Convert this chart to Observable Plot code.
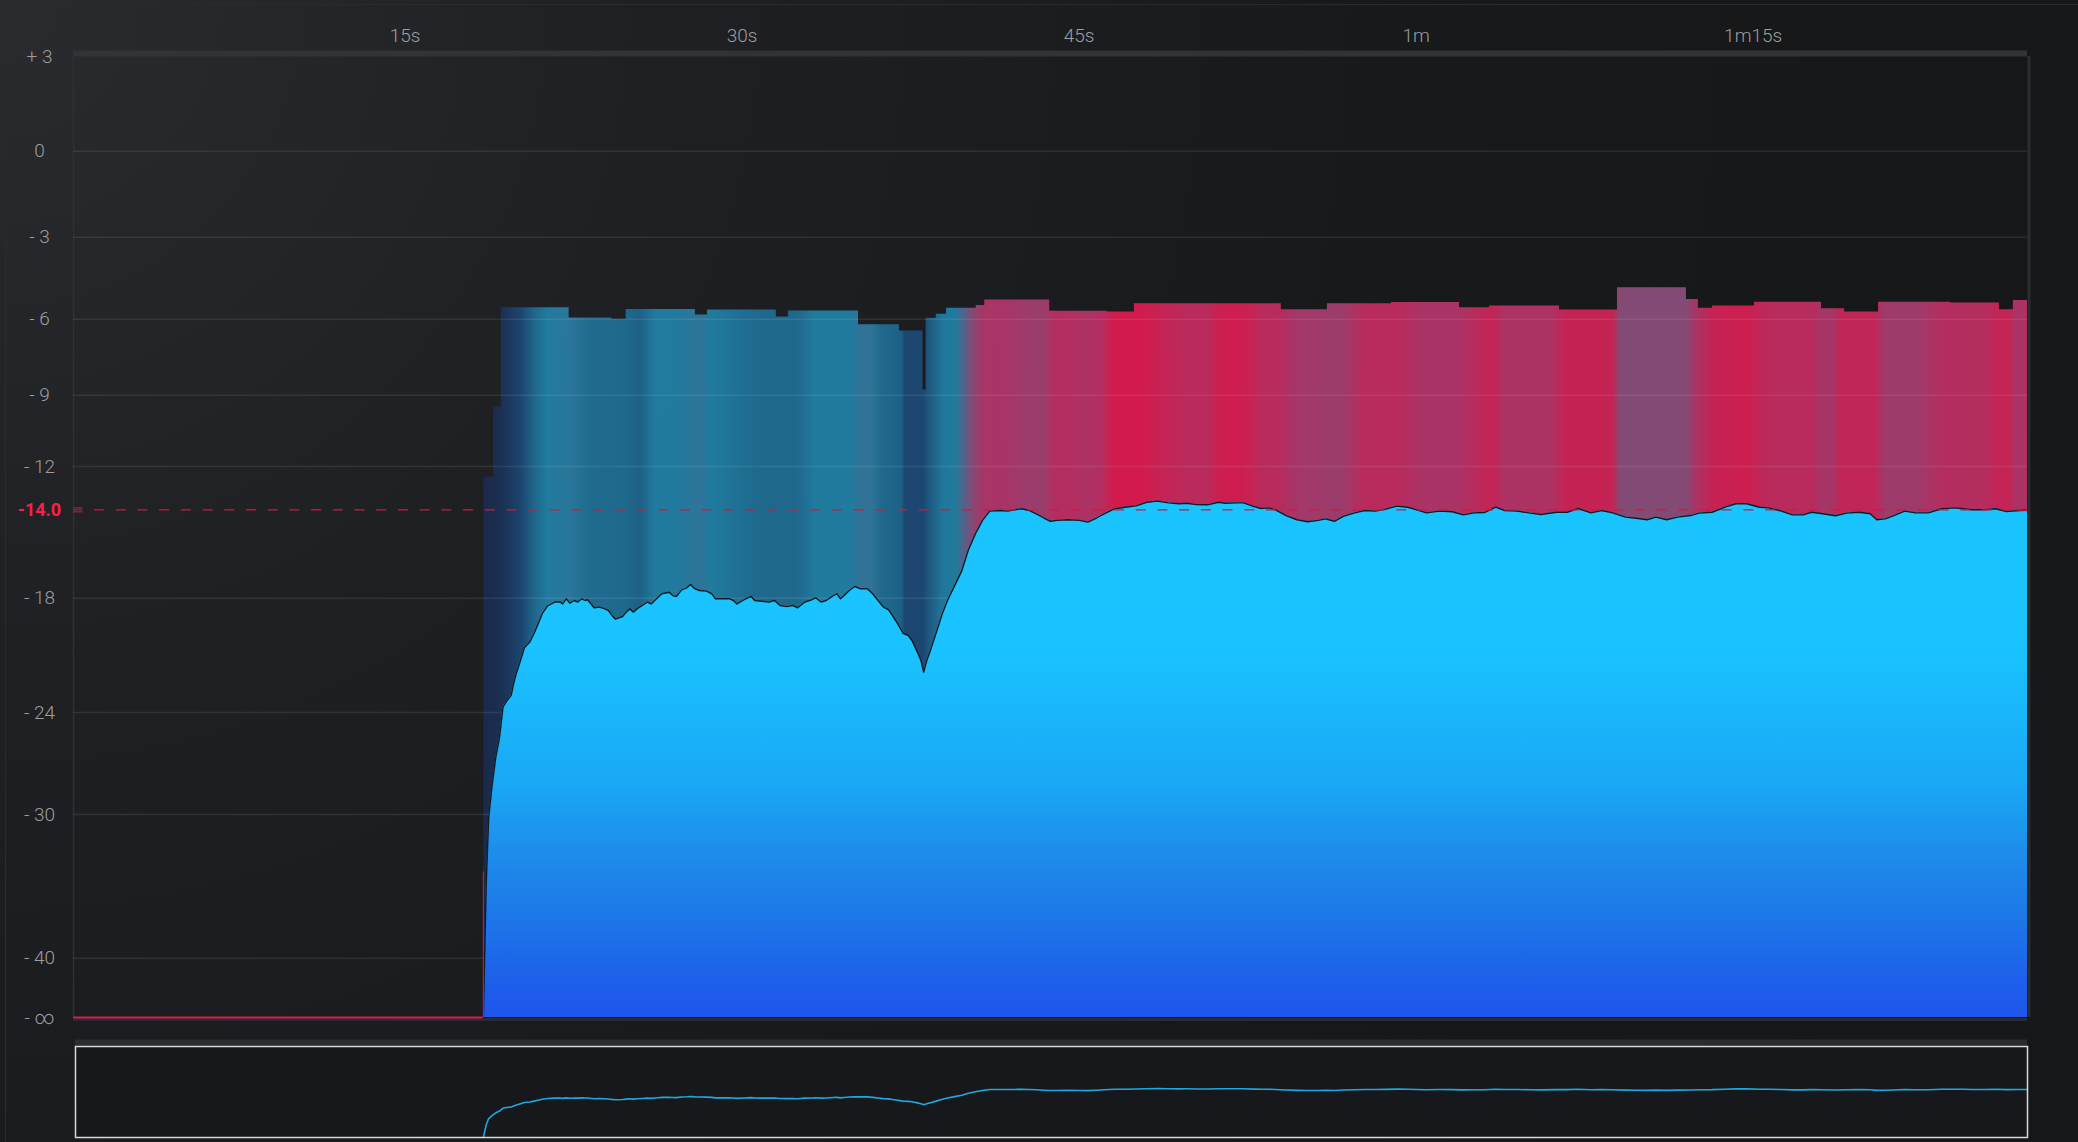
<!DOCTYPE html>
<html>
<head>
<meta charset="utf-8">
<script src="https://cdn.jsdelivr.net/npm/d3@7"></script>
<script src="https://cdn.jsdelivr.net/npm/@observablehq/plot@0.6"></script>
<style>
html, body { margin: 0; padding: 0; width: 2078px; height: 1142px; overflow: hidden; }
body {
  background: radial-gradient(circle at 0 0, #2a2b2e 0px, #1f2023 650px, #18191b 1400px, #161719 2100px);
  font-family: Roboto, "Noto Sans", sans-serif;
}
#wrap { position: relative; width: 2078px; height: 1142px; }
#edge { position: absolute; left: 5px; top: 4px; right: 0; bottom: 0; border-left: 1px solid #2a2b2e; border-top: 1px solid #2a2b2e; pointer-events: none; }
#main, #overview { position: relative; }
svg { display: block; }
</style>
</head>
<body>
<div id="wrap"><div id="edge"></div><div id="main"></div><div id="overview"></div></div>
<script>
// ---------------- data ----------------
const NEG_INF = -60;                 // stand-in value for "- ∞"
const yTicks = [3, 0, -3, -6, -9, -12, -18, -24, -30, -40, NEG_INF];
const yTickLabels = ["+ 3", "0", "- 3", "- 6", "- 9", "- 12", "- 18", "- 24", "- 30", "- 40", "- ∞"];
const gridValues = [0, -3, -6, -9, -12, -18, -24, -30, -40];
const xTicks = [15, 30, 45, 60, 75];
const xTickLabels = ["15s", "30s", "45s", "1m", "1m15s"];
const target = -14;
const targetLabel = "-14.0";
const tStart = 0.24, tEnd = 87.21;   // seconds shown
const onset = 18.48;                 // signal starts

// momentary loudness [seconds, LUFS]
const momentary = [
  [18.48,-60],[18.61,-34.8],[18.72,-30.2],[18.88,-28.2],[19.04,-26.6],[19.20,-25.5],[19.36,-23.7],[19.52,-23.4],
  [19.72,-23.1],[19.83,-22.5],[19.95,-21.95],[20.10,-21.4],[20.31,-20.6],[20.55,-20.3],[20.74,-19.85],[20.90,-19.4],
  [21.11,-18.8],[21.34,-18.4],[21.66,-18.2],[21.90,-18.2],[22.01,-18.3],[22.17,-18.03],[22.33,-18.26],[22.53,-18.12],
  [22.69,-18.2],[22.86,-18.03],[23.01,-18.12],[23.12,-18.08],[23.41,-18.5],[23.65,-18.47],[23.89,-18.56],[24.05,-18.65],
  [24.20,-18.9],[24.36,-19.1],[24.68,-18.96],[24.84,-18.73],[25.00,-18.56],[25.16,-18.73],[25.32,-18.56],[25.56,-18.38],
  [25.79,-18.2],[25.95,-18.3],[26.11,-18.12],[26.27,-17.95],[26.43,-17.8],[26.75,-17.73],[26.91,-17.88],[27.07,-17.92],
  [27.31,-17.62],[27.54,-17.53],[27.70,-17.38],[27.89,-17.57],[28.10,-17.65],[28.42,-17.68],[28.65,-17.8],[28.81,-18.03],
  [29.13,-18.03],[29.45,-18.03],[29.61,-18.12],[29.77,-18.3],[30.09,-18.08],[30.40,-17.92],[30.56,-18.12],[30.88,-18.16],
  [31.20,-18.2],[31.44,-18.12],[31.68,-18.38],[31.99,-18.44],[32.23,-18.38],[32.47,-18.5],[32.79,-18.2],[33.10,-18.08],
  [33.27,-17.98],[33.51,-18.2],[33.74,-18.12],[34.06,-17.88],[34.22,-17.8],[34.38,-18.03],[34.54,-17.88],[34.77,-17.65],
  [35.01,-17.47],[35.25,-17.57],[35.57,-17.57],[35.81,-17.8],[36.05,-18.12],[36.29,-18.47],[36.52,-18.61],[36.68,-18.9],
  [36.92,-19.34],[37.16,-19.84],[37.40,-19.97],[37.56,-20.22],[37.80,-20.83],[37.96,-21.27],[38.08,-21.88],[38.22,-21.27],
  [38.43,-20.57],[38.67,-19.7],[38.91,-18.82],[39.14,-18.12],[39.46,-17.43],[39.78,-16.75],[40.07,-15.82],[40.38,-15.09],
  [40.70,-14.48],[41.02,-14.06],[41.50,-14.03],[41.81,-14.06],[42.13,-14.0],[42.45,-13.95],[42.77,-14.03],[43.09,-14.18],
  [43.41,-14.36],[43.72,-14.52],[44.04,-14.48],[44.52,-14.45],[45.00,-14.48],[45.39,-14.56],[45.79,-14.36],[46.11,-14.18],
  [46.59,-13.95],[47.06,-13.88],[47.54,-13.82],[48.01,-13.65],[48.49,-13.6],[48.97,-13.68],[49.45,-13.72],[49.76,-13.7],
  [50.24,-13.76],[50.72,-13.77],[51.20,-13.65],[51.51,-13.7],[51.99,-13.68],[52.31,-13.68],[52.79,-13.85],[53.10,-13.94],
  [53.42,-13.91],[53.74,-14.0],[54.21,-14.26],[54.69,-14.45],[55.17,-14.54],[55.65,-14.48],[55.96,-14.41],[56.36,-14.52],
  [56.76,-14.3],[57.23,-14.15],[57.71,-14.03],[58.19,-14.06],[58.66,-13.97],[59.14,-13.83],[59.62,-13.88],[60.02,-14.0],
  [60.46,-14.14],[61.04,-14.06],[61.61,-14.09],[62.10,-14.23],[62.58,-14.14],[63.06,-14.12],[63.54,-13.88],[63.92,-14.03],
  [64.50,-14.06],[65.08,-14.15],[65.56,-14.21],[66.24,-14.11],[66.72,-14.11],[67.20,-13.94],[67.78,-14.14],[68.26,-14.03],
  [68.74,-14.14],[69.32,-14.33],[69.80,-14.38],[70.28,-14.45],[70.67,-14.33],[71.15,-14.45],[71.63,-14.33],[72.21,-14.26],
  [72.59,-14.15],[73.17,-14.11],[73.75,-13.88],[74.23,-13.72],[74.71,-13.72],[75.29,-13.88],[75.68,-13.91],[76.26,-14.06],
  [76.74,-14.23],[77.22,-14.23],[77.60,-14.11],[78.09,-14.18],[78.67,-14.27],[79.15,-14.15],[79.73,-14.11],[80.21,-14.18],
  [80.50,-14.45],[80.88,-14.41],[81.26,-14.26],[81.74,-14.06],[82.23,-14.14],[82.80,-14.14],[83.38,-13.95],[83.96,-13.91],
  [84.35,-13.95],[84.73,-14.0],[85.31,-14.0],[85.79,-13.95],[86.27,-14.08],[86.85,-14.03],[87.21,-14.0]
];

// max-hold level, step starts [seconds, LUFS]
const maxHold = [
  [18.50,-12.5],[18.93,-9.5],[19.28,-5.58],[22.30,-5.96],[24.20,-6.0],[24.84,-5.65],[27.92,-5.85],[28.46,-5.67],
  [31.52,-5.92],[32.06,-5.70],[35.18,-6.22],[37.00,-6.47],[38.05,-8.8],[38.19,-5.97],[38.64,-5.82],[39.10,-5.60],
  [40.42,-5.50],[40.80,-5.30],[43.69,-5.71],[46.26,-5.74],[47.46,-5.44],[54.00,-5.66],[56.05,-5.44],[58.90,-5.39],
  [61.93,-5.58],[63.26,-5.52],[66.38,-5.67],[68.96,-4.85],[72.03,-5.28],[72.56,-5.60],[73.19,-5.52],[75.06,-5.38],
  [78.04,-5.62],[79.07,-5.74],[80.58,-5.38],[83.78,-5.41],[85.96,-5.66],[86.58,-5.32],[87.21,-5.32]
];

// band tone along time [seconds, 0 = quiet … 1 = over target]
const bandTone = [
  [18.49,0],[19.25,0.05],[19.78,0.15],[20.23,0.25],[20.72,0.4],[21.34,0.5],[22.32,0.52],[23.25,0.43],[24.85,0.42],
  [25.48,0.38],[26.15,0.5],[26.90,0.5],[28.15,0.53],[28.64,0.5],[29.93,0.45],[30.86,0.42],[32.47,0.42],[33.26,0.5],
  [34.87,0.5],[35.36,0.54],[35.80,0.53],[36.25,0.42],[37.09,0.38],[37.27,0.25],[38.03,0.25],[38.38,0.35],[38.92,0.48],
  [39.49,0.5],[39.89,0.6],[40.38,0.75],[40.87,0.84],[41.81,0.83],[42.61,0.79],[43.41,0.78],[43.95,0.88],[44.66,0.88],
  [45.28,0.85],[45.95,0.87],[46.57,1.0],[47.86,1.0],[48.62,0.95],[49.96,0.9],[50.71,0.9],[51.29,0.98],[52.32,0.98],
  [53.16,0.9],[53.92,0.9],[54.63,0.82],[56.63,0.78],[57.70,0.9],[59.30,0.9],[60.19,0.84],[61.79,0.84],[62.42,0.88],
  [63.39,0.95],[63.93,0.85],[66.02,0.85],[66.69,0.95],[68.74,0.95],[69.09,0.7],[72.03,0.7],[72.43,0.83],[73.19,0.95],
  [74.70,0.98],[75.68,0.9],[77.64,0.9],[78.00,0.83],[78.57,0.83],[78.88,0.93],[80.48,0.93],[80.84,0.8],[82.40,0.8],
  [83.38,0.88],[85.29,0.88],[85.87,0.94],[86.45,0.94],[86.68,0.85],[87.21,0.85]
];

// ---------------- styles ----------------
const toneDomain = [0, 0.25, 0.42, 0.5, 0.7, 0.85, 1];
const toneRange = ["#1a2a4c", "#1c4a77", "#1f6e95", "#2082a8", "#8c4e7c", "#b8346a", "#e01b50"];
const toneColor = d3.scaleLinear().domain(toneDomain).range(toneRange).interpolate(d3.interpolateRgb).clamp(true);
const RED = "#d81c4a";
const LABEL = "#9d9ea0";

// meter scale: level (LUFS) -> share of the meter height (measured off the display)
const meterLevels = [NEG_INF, -40, -30, -24, -18, -14, -12, -9, -6, -3, 0, 3];
const meterShare  = [0, 0.0617, 0.2112, 0.3174, 0.4363, 0.5283, 0.5734, 0.6476, 0.7267, 0.8120, 0.9015, 1];
const meter = d3.scaleLinear().domain(meterLevels).range(meterShare).clamp(true);

const mainTop = 56, mainBottom = 1017;
const xRange = [73, 2027];

const main = Plot.plot({
  width: 2078,
  height: 1030,
  marginLeft: 73,
  marginRight: 51,
  marginTop: mainTop,
  marginBottom: 1030 - mainBottom,
  style: {background: "transparent", color: LABEL, overflow: "visible"},
  x: {type: "linear", domain: [tStart, tEnd], range: xRange, axis: null},
  y: {type: "linear", transform: meter, domain: [0, 1], range: [mainBottom, mainTop], axis: null},
  marks: [
    // frame pieces
    Plot.ruleY([3], {stroke: "#313336", strokeWidth: 6, dy: -3}),
    Plot.ruleX([tStart], {y1: NEG_INF, y2: 3, stroke: "#2e3033", strokeWidth: 1.5}),
    Plot.ruleY([NEG_INF], {stroke: "#2a2b2e", strokeWidth: 3, dy: 2}),
    // max-hold band
    Plot.areaY(maxHold, {x: d => d[0], y1: NEG_INF, y2: d => d[1], curve: "step-after", fill: "url(#bandFill)", fillOpacity: 0.93}),
    // grid
    Plot.ruleY(gridValues, {stroke: "#ffffff", strokeOpacity: 0.085, strokeWidth: 1.5}),
    // momentary area
    Plot.areaY(momentary, {x: d => d[0], y1: NEG_INF, y2: d => d[1], fill: "url(#cyanFill)"}),
    Plot.lineY(momentary, {x: d => d[0], y: d => d[1], stroke: "#121a22", strokeWidth: 1.4}),
    // silence
    Plot.ruleY([NEG_INF], {x1: tStart, x2: onset, stroke: RED, strokeWidth: 2}),
    Plot.ruleX([onset], {y1: NEG_INF, y2: -34, stroke: RED, strokeWidth: 1}),
    // target
    Plot.ruleY([target], {x1: 1.18, x2: tEnd, stroke: "#d0183f", strokeWidth: 1.3, strokeDasharray: "10,11.7"}),
    Plot.ruleY([target], {x1: tStart, x2: tStart + 0.42, stroke: "#d0183f", strokeWidth: 1, dy: -2}),
    Plot.ruleY([target], {x1: tStart, x2: tStart + 0.42, stroke: "#d0183f", strokeWidth: 1, dy: 0}),
    Plot.ruleY([target], {x1: tStart, x2: tStart + 0.42, stroke: "#d0183f", strokeWidth: 1, dy: 2}),
    Plot.ruleY([target], {x1: tEnd - 0.45, x2: tEnd, stroke: "#d0183f", strokeWidth: 1, dy: 1}),
    // right border
    Plot.ruleX([tEnd], {y1: NEG_INF, y2: 3, stroke: "#2c2d31", strokeWidth: 3, dx: 1.5}),
    // labels
    Plot.text(yTicks, {y: d => d, text: (d, i) => yTickLabels[i], frameAnchor: "left", dx: -34, textAnchor: "middle",
      fill: LABEL, fontSize: 19, fontWeight: 300, fontFamily: "Roboto, 'Noto Sans', sans-serif"}),
    Plot.text([target], {y: d => d, text: () => targetLabel, frameAnchor: "left", dx: -34, textAnchor: "middle",
      fill: "#ff1d45", fontSize: 18, fontWeight: 700, fontFamily: "Roboto, 'Noto Sans', sans-serif"}),
    Plot.text(xTicks, {x: d => d, text: (d, i) => xTickLabels[i], frameAnchor: "top", dy: -28, textAnchor: "middle",
      fill: LABEL, fontSize: 19, fontWeight: 300, fontFamily: "Roboto, 'Noto Sans', sans-serif"})
  ]
});

// gradients, with stops positioned through the plot's own scales
function addDefs(svg) {
  const ns = "http://www.w3.org/2000/svg";
  const defs = document.createElementNS(ns, "defs");
  const grad = (id, attrs, stops) => {
    const g = document.createElementNS(ns, "linearGradient");
    g.setAttribute("id", id);
    for (const [k, v] of Object.entries(attrs)) g.setAttribute(k, v);
    for (const [o, c] of stops) {
      const s = document.createElementNS(ns, "stop");
      s.setAttribute("offset", o);
      s.setAttribute("stop-color", c);
      g.appendChild(s);
    }
    defs.appendChild(g);
  };
  const xs = svg.scale("x");
  const ys = svg.scale("y");
  const yPix = v => ys.apply(meter(v));
  grad("cyanFill", {gradientUnits: "userSpaceOnUse", x1: 0, x2: 0, y1: yPix(-18), y2: yPix(NEG_INF)},
    [[0,"#19c4ff"],[0.125,"#19c3ff"],[0.44,"#1aa8f5"],[0.60,"#1d8eea"],[0.76,"#1d78e8"],[0.92,"#1e5eeb"],[1,"#1e55ec"]]);
  const x0 = xs.apply(maxHold[0][0]), x1 = xs.apply(maxHold[maxHold.length - 1][0]);
  grad("bandFill", {gradientUnits: "userSpaceOnUse", x1: x0, x2: x1, y1: 0, y2: 0},
    bandTone.map(([t, k]) => [Math.max(0, Math.min(1, (xs.apply(t) - x0) / (x1 - x0))), toneColor(k)]));
  svg.insertBefore(defs, svg.firstChild);
}
addDefs(main);
document.getElementById("main").appendChild(main);

// overview panel: same meter scale squeezed into the mini panel
const ovTop = 16, ovBottom = 107;
const overview = Plot.plot({
  width: 2078,
  height: 112,
  marginLeft: 75,
  marginRight: 51,
  marginTop: ovTop,
  marginBottom: 112 - ovBottom,
  style: {background: "transparent", overflow: "visible"},
  x: {type: "linear", domain: [tStart, tEnd], range: xRange, axis: null},
  y: {type: "linear", transform: meter, domain: [0, 1], range: [ovBottom, ovTop], axis: null},
  marks: [
    Plot.ruleY([3], {stroke: "#2b2c2f", strokeWidth: 6, dy: -4}),
    Plot.frame({fill: "#17181b"}),
    Plot.lineY(momentary, {x: d => d[0], y: d => d[1], stroke: "#1ea9de", strokeWidth: 1.6}),
    Plot.frame({stroke: "#d9d9d9", strokeWidth: 1.5})
  ]
});
document.getElementById("overview").appendChild(overview);
</script>
</body>
</html>
